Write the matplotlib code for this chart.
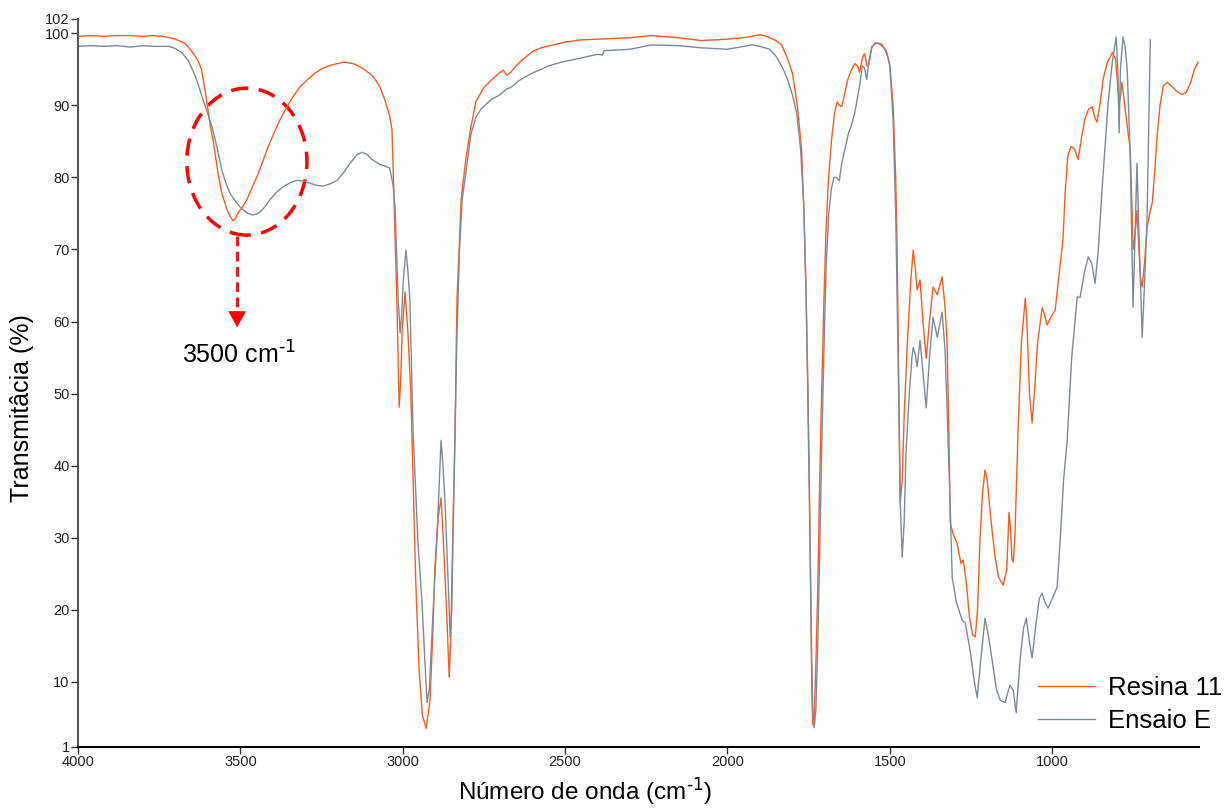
import matplotlib
matplotlib.use("Agg")
import matplotlib.pyplot as plt
from matplotlib.patches import Ellipse
import numpy as np

plt.rcParams['font.family'] = ['Liberation Sans', 'DejaVu Sans']
plt.rcParams['mathtext.default'] = 'regular'

# FTIR spectra: wavenumber (cm-1) and transmittance (%)
wn_resina = [4000, 3960, 3920, 3880, 3840, 3800, 3770, 3740, 3717, 3700, 3685, 3670, 3655, 3640, 3630, 3620,
             3610, 3600, 3592, 3584, 3569, 3557, 3541, 3530, 3523, 3515, 3507, 3495, 3480, 3465, 3449, 3432,
             3415, 3397, 3378, 3358, 3338, 3318, 3295, 3270, 3245, 3220, 3202, 3180, 3162, 3147, 3125, 3110,
             3095, 3080, 3070, 3055, 3040, 3033, 3027, 3018, 3011, 3006, 3002, 2993, 2984, 2975, 2968, 2960,
             2950, 2940, 2928, 2916, 2908, 2901, 2891, 2882, 2876, 2864, 2857, 2852, 2848, 2839, 2833, 2820,
             2806, 2790, 2775, 2750, 2728, 2700, 2690, 2680, 2668, 2640, 2600, 2574, 2500, 2450, 2400, 2300,
             2235, 2150, 2080, 2000, 1950, 1900, 1880, 1850, 1833, 1815, 1800, 1785, 1772, 1765, 1758, 1752,
             1747, 1743, 1740, 1737, 1733, 1728, 1722, 1716, 1710, 1703, 1697, 1690, 1680, 1670, 1662, 1655,
             1648, 1640, 1630, 1620, 1608, 1600, 1593, 1585, 1578, 1570, 1565, 1555, 1540, 1525, 1510, 1500,
             1490, 1482, 1478, 1472, 1468, 1462, 1455, 1445, 1435, 1428, 1422, 1416, 1407, 1398, 1388, 1378,
             1367, 1354, 1339, 1330, 1324, 1318, 1314, 1305, 1293, 1281, 1274, 1265, 1255, 1245, 1237, 1230,
             1222, 1215, 1207, 1200, 1190, 1176, 1165, 1151, 1140, 1133, 1128, 1124, 1120, 1115, 1105, 1095,
             1083, 1078, 1070, 1062, 1055, 1045, 1031, 1024, 1016, 1005, 991, 980, 967, 960, 952, 942,
             932, 920, 910, 900, 888, 877, 868, 862, 852, 843, 830, 815, 805, 798, 794, 789,
             785, 778, 770, 760, 754, 751, 746, 739, 733, 728, 723, 716, 708, 700, 692, 684,
             677, 668, 658, 646, 635, 618, 600, 588, 575, 562, 551]
t_resina = [99.6, 99.7, 99.6, 99.7, 99.7, 99.6, 99.7, 99.6, 99.4, 99.2, 98.9, 98.6, 97.8, 96.9, 96.2, 95.0,
            92.5, 89.4, 87.0, 85.2, 80.6, 77.8, 75.5, 74.5, 74.0, 74.3, 75.1, 75.8, 76.9, 78.5, 80.1, 82.1,
            84.2, 86.1, 88.0, 89.7, 91.2, 92.5, 93.5, 94.5, 95.2, 95.6, 95.8, 96.0, 95.9, 95.7, 95.2, 94.7,
            94.2, 93.3, 92.5, 90.8, 88.5, 86.6, 77.0, 63.0, 48.1, 52.0, 58.4, 64.1, 58.4, 50.0, 38.0, 24.0,
            12.0, 5.5, 3.5, 7.4, 16.0, 25.9, 32.8, 35.5, 30.6, 18.9, 10.6, 16.0, 25.9, 44.5, 63.0, 76.9,
            82.5, 87.0, 90.5, 92.5, 93.5, 94.6, 94.9, 94.2, 94.6, 96.0, 97.5, 98.0, 98.8, 99.1, 99.2, 99.4,
            99.7, 99.4, 99.0, 99.2, 99.4, 99.8, 99.6, 99.0, 98.4, 96.5, 94.5, 90.0, 84.0, 76.0, 64.0, 50.0,
            35.0, 20.0, 8.0, 4.0, 5.0, 12.0, 23.0, 38.0, 50.0, 63.0, 72.0, 79.0, 85.0, 89.0, 90.5, 90.0,
            89.8, 91.5, 93.5, 94.8, 95.8, 95.5, 94.6, 96.5, 97.2, 95.5, 95.6, 98.2, 98.7, 98.5, 97.5, 95.5,
            90.0, 80.0, 71.3, 50.0, 34.8, 38.0, 48.0, 58.0, 66.0, 69.9, 67.5, 64.4, 65.8, 60.0, 54.9, 60.0,
            64.8, 63.7, 66.2, 62.0, 57.4, 44.0, 32.0, 30.5, 29.2, 26.4, 26.9, 24.0, 19.0, 16.5, 16.2, 20.0,
            30.0, 36.0, 39.4, 38.0, 33.0, 27.3, 24.5, 23.4, 25.5, 33.5, 31.0, 27.0, 26.6, 30.0, 45.0, 57.0,
            63.2, 60.0, 50.0, 45.9, 50.0, 57.0, 61.9, 61.0, 59.5, 60.5, 61.6, 66.0, 71.3, 78.0, 83.0, 84.3,
            84.0, 82.5, 85.5, 88.0, 89.5, 89.8, 88.2, 87.7, 90.5, 93.7, 96.0, 97.3, 96.5, 92.5, 90.2, 91.5,
            93.2, 90.5, 87.5, 84.0, 75.4, 70.0, 71.5, 75.4, 70.0, 66.0, 64.8, 68.0, 73.0, 75.0, 76.5, 81.0,
            85.7, 90.0, 92.7, 93.2, 92.8, 92.0, 91.5, 91.8, 93.0, 95.0, 96.0]

wn_ensaio = [4000, 3960, 3920, 3880, 3840, 3800, 3760, 3720, 3700, 3680, 3660, 3640, 3624, 3615, 3600, 3587,
             3572, 3557, 3545, 3532, 3515, 3501, 3480, 3464, 3450, 3439, 3425, 3409, 3390, 3369, 3345, 3326,
             3305, 3285, 3265, 3245, 3225, 3202, 3180, 3162, 3140, 3125, 3110, 3095, 3070, 3055, 3040, 3030,
             3024, 3021, 3014, 3008, 3003, 2999, 2990, 2984, 2978, 2968, 2953, 2941, 2932, 2925, 2918, 2910,
             2894, 2882, 2876, 2870, 2860, 2854, 2849, 2845, 2833, 2825, 2817, 2806, 2790, 2775, 2759, 2728,
             2700, 2680, 2667, 2640, 2605, 2550, 2512, 2450, 2400, 2385, 2380, 2300, 2235, 2150, 2080, 2000,
             1950, 1925, 1900, 1870, 1850, 1830, 1815, 1800, 1787, 1775, 1765, 1758, 1752, 1746, 1741, 1737,
             1733, 1728, 1722, 1716, 1710, 1703, 1696, 1688, 1680, 1672, 1664, 1656, 1648, 1638, 1628, 1617,
             1608, 1600, 1592, 1585, 1578, 1571, 1565, 1556, 1545, 1530, 1515, 1505, 1500, 1490, 1482, 1475,
             1468, 1462, 1456, 1450, 1440, 1432, 1428, 1422, 1416, 1407, 1398, 1388, 1378, 1367, 1354, 1339,
             1330, 1324, 1314, 1308, 1295, 1277, 1268, 1253, 1240, 1231, 1220, 1207, 1195, 1185, 1172, 1160,
             1145, 1135, 1130, 1120, 1111, 1099, 1088, 1080, 1070, 1062, 1050, 1040, 1031, 1022, 1013, 1000,
             985, 975, 965, 954, 940, 923, 914, 900, 889, 878, 868, 858, 846, 828, 815, 803,
             798, 794, 790, 782, 775, 769, 760, 751, 745, 739, 733, 723, 715, 708, 698]
t_ensaio = [98.2, 98.3, 98.2, 98.3, 98.1, 98.3, 98.2, 98.2, 97.9, 97.3, 96.2, 94.2, 92.1, 90.8, 88.8, 87.0,
            84.2, 81.0, 79.3, 77.8, 76.7, 75.9, 75.1, 74.8, 74.9, 75.2, 75.9, 76.9, 77.9, 78.7, 79.3, 79.6,
            79.5, 79.2, 78.9, 78.8, 79.1, 79.6, 80.8, 82.0, 83.2, 83.5, 83.2, 82.5, 81.8, 81.6, 81.3, 79.0,
            76.0, 72.3, 63.0, 58.4, 61.0, 65.3, 69.9, 67.0, 63.0, 44.5, 29.2, 21.3, 13.0, 7.1, 9.0, 16.7,
            30.6, 43.5, 40.0, 35.2, 23.7, 16.2, 20.0, 30.6, 58.4, 70.0, 76.9, 80.5, 86.0, 88.3, 89.5, 90.8,
            91.5, 92.3, 92.5, 93.5, 94.4, 95.5, 96.0, 96.6, 97.1, 97.0, 97.6, 97.8, 98.4, 98.3, 98.0, 97.8,
            98.2, 98.4, 98.2, 97.8, 96.8, 95.2, 93.6, 91.5, 89.0, 84.0, 76.0, 64.0, 48.0, 30.0, 14.0, 6.0,
            3.6, 6.0, 15.0, 28.0, 42.0, 56.0, 68.0, 75.0, 78.5, 80.0, 80.0, 79.5, 82.0, 84.0, 86.0, 87.5,
            89.0, 91.0, 93.0, 95.5, 95.2, 93.6, 96.0, 98.0, 98.7, 98.5, 97.8, 96.5, 95.5, 88.0, 75.0, 56.0,
            35.0, 27.3, 32.0, 42.0, 50.0, 55.0, 56.4, 55.5, 53.7, 57.4, 53.0, 48.0, 55.0, 60.6, 57.8, 61.3,
            56.0, 48.1, 34.2, 24.5, 21.0, 18.5, 18.2, 14.4, 10.0, 7.8, 13.0, 18.8, 16.0, 13.0, 9.0, 7.4,
            7.1, 8.8, 9.5, 8.8, 5.7, 13.0, 17.5, 18.8, 15.5, 13.3, 18.0, 21.5, 22.3, 21.0, 20.2, 21.5,
            23.1, 30.0, 38.0, 43.5, 55.0, 63.4, 63.4, 67.0, 69.0, 68.0, 65.3, 70.0, 78.7, 90.3, 96.0, 99.5,
            95.0, 86.2, 95.0, 99.5, 98.0, 94.9, 83.4, 62.0, 72.0, 82.0, 72.3, 57.8, 66.0, 74.1, 99.1]

labels = ['Resina 11', 'Ensaio E']
colors = ['#FF5A1F', '#7D8A99']

x_ticks = [4000, 3500, 3000, 2500, 2000, 1500, 1000]
y_ticks = [1, 10, 20, 30, 40, 50, 60, 70, 80, 90, 100, 102]

fig = plt.figure(figsize=(12.31, 8.08), dpi=100)
ax = fig.add_axes([78 / 1231, 1 - 746.5 / 808, (1199 - 78) / 1231, (746.5 - 19) / 808])

ax.plot(wn_resina, t_resina, color=colors[0], lw=1.0, label=labels[0])
ax.plot(wn_ensaio, t_ensaio, color=colors[1], lw=1.0, label=labels[1])

ax.set_xlim(4000, 548)
ax.set_ylim(1, 102)
ax.set_xticks(x_ticks)
ax.set_xticklabels([str(v) for v in x_ticks])
ax.set_yticks(y_ticks)
ax.set_yticklabels([str(v) for v in y_ticks])

for side in ('top', 'right'):
    ax.spines[side].set_visible(False)
ax.spines['left'].set_color('#555555')
ax.spines['left'].set_linewidth(1.5)
ax.spines['bottom'].set_color('#000000')
ax.spines['bottom'].set_linewidth(1.5)
ax.tick_params(axis='both', direction='out', length=5, width=1, colors='#333333',
               labelsize=10.5, pad=1)
for lbl in ax.get_xticklabels() + ax.get_yticklabels():
    lbl.set_family(['Liberation Sans Narrow', 'Liberation Sans'])
    lbl.set_color('#222222')

ax.set_xlabel(r'Número de onda (cm$^{\text{-1}}$)', fontsize=17.5)
ax.xaxis.set_label_coords(0.452, -0.040)
ax.set_ylabel('Transmitâcia (%)', fontsize=18)
ax.yaxis.set_label_coords(-0.039, 0.465)

# O-H band highlight
ell = Ellipse((3480, 82.2), width=370, height=20.4, fill=False, edgecolor='#FF0000',
              lw=2.5, linestyle=(0, (5, 3)))
ax.add_patch(ell)
ax.plot([3510, 3510], [71.9, 61.6], color='#FF0000', lw=2, linestyle=(0, (3.5, 2)))
ax.annotate('', xy=(3510, 59.2), xytext=(3510, 61.4),
            arrowprops=dict(arrowstyle='-|>,head_length=0.6,head_width=0.33',
                            color='#FF0000', lw=0.5, mutation_scale=18,
                            shrinkA=0, shrinkB=0))
ax.text(3504, 55.3, r'3500 cm$^{\text{-1}}$', ha='center', va='center', fontsize=18)

leg = ax.legend(loc='lower right', bbox_to_anchor=(1222 / 1231, 1 - 733 / 808),
                bbox_transform=fig.transFigure, frameon=False, fontsize=18.5,
                handlelength=2.2, handletextpad=0.5, labelspacing=0.35,
                borderpad=0, borderaxespad=0)

fig.savefig('out.png', dpi=100)
